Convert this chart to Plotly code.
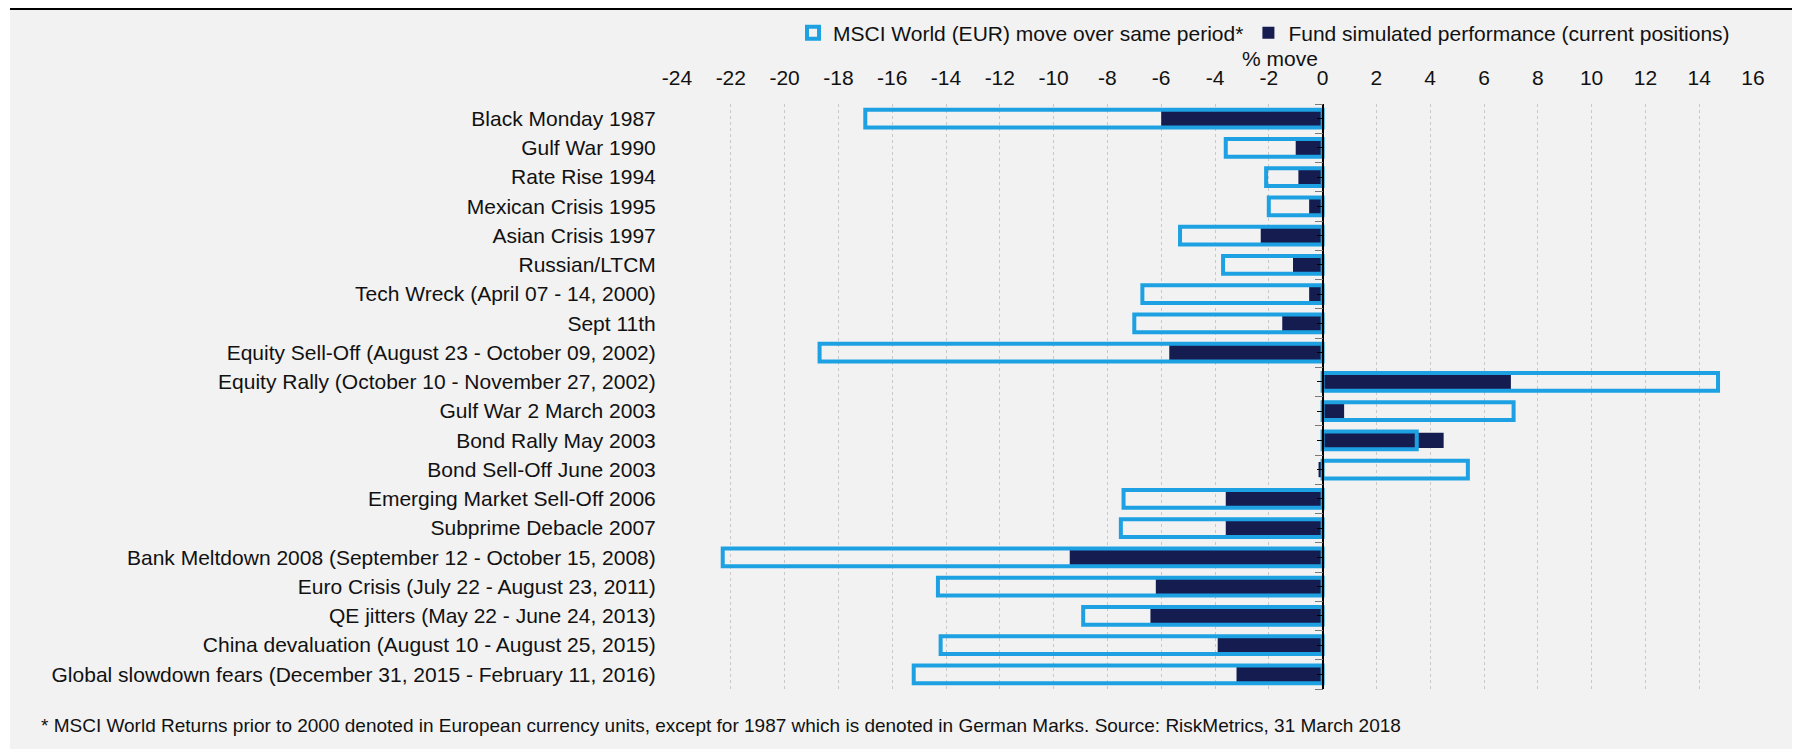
import plotly.graph_objects as go

# stress scenarios, top to bottom
scenarios = [
    "Black Monday 1987",
    "Gulf War 1990",
    "Rate Rise 1994",
    "Mexican Crisis 1995",
    "Asian Crisis 1997",
    "Russian/LTCM",
    "Tech Wreck (April 07 - 14, 2000)",
    "Sept 11th",
    "Equity Sell-Off (August 23 - October 09, 2002)",
    "Equity Rally (October 10 - November 27, 2002)",
    "Gulf War 2 March 2003",
    "Bond Rally May 2003",
    "Bond Sell-Off June 2003",
    "Emerging Market Sell-Off 2006",
    "Subprime Debacle 2007",
    "Bank Meltdown 2008 (September 12 - October 15, 2008)",
    "Euro Crisis (July 22 - August 23, 2011)",
    "QE jitters (May 22 - June 24, 2013)",
    "China devaluation (August 10 - August 25, 2015)",
    "Global slowdown fears (December 31, 2015 - February 11, 2016)",
]

# % move
msci_move = [-17.0, -3.6, -2.1, -2.0, -5.3, -3.7, -6.7, -7.0, -18.7, 14.7,
             7.1, 3.5, 5.4, -7.4, -7.5, -22.3, -14.3, -8.9, -14.2, -15.2]
fund_move = [-6.0, -1.0, -0.9, -0.5, -2.3, -1.1, -0.5, -1.5, -5.7, 7.0,
             0.8, 4.5, -0.15, -3.6, -3.6, -9.4, -6.2, -6.4, -3.9, -3.2]

x_min = -24
x_max = 16
x_ticks = list(range(x_min, x_max + 1, 2))
x_ticktext = [str(v) for v in x_ticks]   # plain hyphen, like the source

footnote = ("* MSCI World Returns prior to 2000 denoted in European currency units, "
            "except for 1987 which is denoted in German Marks. Source: RiskMetrics, 31 March 2018")

BLUE = "rgb(29, 161, 226)"
NAVY = "rgb(21, 29, 80)"
BG = "#f2f2f2"
FONT = "Liberation Sans, Arial, sans-serif"

# plot area in figure pixels (page has an 8px body margin)
L, R, T, B = 669, 1745, 96, 681
W, H = 1800, 749

n = len(scenarios)
row_idx = list(range(n))

fig = go.Figure()

fig.add_trace(go.Bar(
    y=scenarios,
    x=fund_move,
    orientation="h",
    name="Fund simulated performance (current positions)",
    marker_color=NAVY,
    marker_line_width=0,
    width=0.52,
    legendrank=2,
))
fig.add_trace(go.Bar(
    y=scenarios,
    x=msci_move,
    orientation="h",
    name="MSCI World (EUR) move over same period*",
    marker_color="rgba(0,0,0,0)",
    marker_line_color=BLUE,
    marker_line_width=4,
    width=0.6,
    legendrank=1,
))

# invisible helpers so the zero axis (with its ticks) gets drawn
fig.add_trace(go.Scatter(x=fund_move, y=row_idx, yaxis="y2", mode="markers",
                         marker_opacity=0, hoverinfo="skip", showlegend=False))
fig.add_trace(go.Scatter(x=fund_move, y=row_idx, yaxis="y3", mode="markers",
                         marker_opacity=0, hoverinfo="skip", showlegend=False))

zero_pos = (0 - x_min) / (x_max - x_min)

px_x = lambda p: (p - L) / (R - L)
px_y = lambda p: 1 + (T - p) / (B - T)

fig.update_layout(
    width=W,
    height=H,
    margin=dict(l=L, r=W - R, t=T, b=H - B, autoexpand=False),
    paper_bgcolor=BG,
    plot_bgcolor=BG,
    barmode="overlay",
    font=dict(family=FONT, size=21, color="#111111"),
    showlegend=True,
    legend=dict(
        orientation="h",
        x=px_x(1727),
        xanchor="right",
        y=px_y(25),
        yanchor="middle",
        font=dict(size=21),
        bgcolor="rgba(0,0,0,0)",
        itemwidth=30,
    ),
    xaxis=dict(
        side="top",
        range=[x_min, x_max],
        tickvals=x_ticks,
        ticktext=x_ticktext,
        showgrid=True,
        gridcolor="#c8c8c8",
        griddash="3px,3px",
        gridwidth=1,
        zeroline=False,
        showline=False,
        ticks="outside",
        ticklen=10,
        tickcolor="rgba(0,0,0,0)",
        tickfont=dict(size=21),
    ),
    yaxis=dict(
        type="category",
        range=[n - 0.5, -0.5],
        showgrid=False,
        zeroline=False,
        showline=False,
        ticks="outside",
        ticklen=16,
        tickcolor="rgba(0,0,0,0)",
        tickfont=dict(size=21),
    ),
    yaxis2=dict(
        overlaying="y",
        anchor="free",
        position=zero_pos,
        range=[n - 0.5, -0.5],
        showline=True,
        linecolor="black",
        linewidth=1.5,
        tickvals=row_idx,
        ticks="outside",
        ticklen=5,
        tickcolor="black",
        showticklabels=False,
        showgrid=False,
        zeroline=False,
    ),
    yaxis3=dict(
        overlaying="y",
        anchor="free",
        position=zero_pos,
        range=[n - 0.5, -0.5],
        showline=False,
        tickvals=[i - 0.5 for i in range(n + 1)],
        ticks="outside",
        ticklen=8,
        tickcolor="#7a7a7a",
        showticklabels=False,
        showgrid=False,
        zeroline=False,
    ),
)

# "% move" axis caption
fig.add_annotation(
    text="% move",
    xref="paper", yref="paper",
    x=px_x(1272), y=px_y(50),
    xanchor="center", yanchor="middle",
    showarrow=False,
    font=dict(size=21),
)

fig.add_annotation(
    text=footnote,
    xref="paper", yref="paper",
    x=px_x(31), y=px_y(717),
    xanchor="left", yanchor="middle",
    showarrow=False,
    font=dict(size=19),
)

# white frame strip with the black rule at the top
fig.add_shape(type="rect", xref="paper", yref="paper",
              x0=px_x(0), x1=px_x(W), y0=px_y(0), y1=px_y(2),
              fillcolor="white", line_width=0, layer="below")
fig.add_shape(type="rect", xref="paper", yref="paper",
              x0=px_x(0), x1=px_x(2), y0=px_y(0), y1=px_y(H),
              fillcolor="white", line_width=0, layer="below")
fig.add_shape(type="line", xref="paper", yref="paper",
              x0=px_x(2), x1=px_x(W), y0=px_y(0.5), y1=px_y(0.5),
              line=dict(color="black", width=3))

fig.write_html("out.html")
